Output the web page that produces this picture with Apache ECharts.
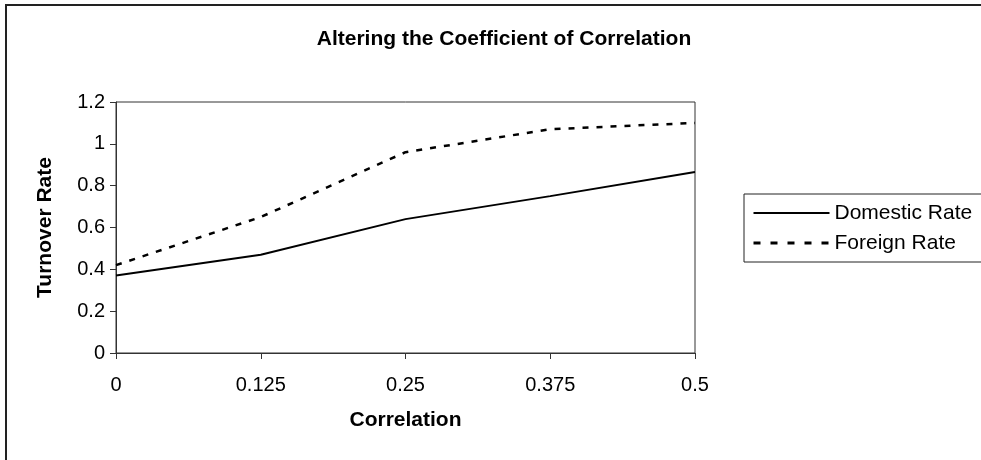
<!DOCTYPE html>
<html>
<head>
<meta charset="utf-8">
<script src="https://cdn.jsdelivr.net/npm/echarts@6/dist/echarts.min.js"></script>
<style>
html,body{margin:0;padding:0;background:#fff;}
#chart{width:981px;height:460px;}
</style>
</head>
<body>
<div id="chart"></div>
<script>
const correlation = [0, 0.125, 0.25, 0.375, 0.5];
const domesticRate = [0.37, 0.47, 0.64, 0.75, 0.865];
const foreignRate = [0.42, 0.65, 0.96, 1.07, 1.10];
const yTickLabels = ['0', '0.2', '0.4', '0.6', '0.8', '1', '1.2'];
const xTickLabels = ['0', '0.125', '0.25', '0.375', '0.5'];

const font = 'Liberation Sans, Arial, sans-serif';
const chart = echarts.init(document.getElementById('chart'));
chart.setOption({
  animation: false,
  backgroundColor: '#fff',
  title: {
    text: 'Altering the Coefficient of Correlation',
    left: 499, top: 24, textAlign: 'center',
    textStyle: {fontFamily: font, fontSize: 21, fontWeight: 'bold', color: '#000'}
  },
  grid: {left: 116, top: 102, width: 579, height: 251, show: true, borderColor: '#333', borderWidth: 1, backgroundColor: 'transparent'},
  legend: {
    orient: 'vertical', left: 752, top: 202, itemWidth: 76, itemHeight: 10, itemGap: 8, padding: 0,
    itemStyle: {opacity: 0},
    textStyle: {fontFamily: font, fontSize: 21, lineHeight: 22, color: '#000'},
    data: [
      {name: 'Domestic Rate'},
      {name: 'Foreign Rate', lineStyle: {type: [7, 10], width: 3}}
    ]
  },
  graphic: [
    {type: 'rect', shape: {x: 6, y: 5, width: 1000, height: 500}, style: {fill: 'none', stroke: '#222', lineWidth: 2}, silent: true, z: -1},
    {type: 'rect', shape: {x: 744, y: 194, width: 300, height: 68}, style: {fill: 'none', stroke: '#222', lineWidth: 1}, silent: true}
  ],
  xAxis: {
    type: 'value', min: 0, max: 0.5, interval: 0.125,
    name: 'Correlation', nameLocation: 'middle', nameGap: 57,
    nameTextStyle: {fontFamily: font, fontSize: 21, fontWeight: 'bold', color: '#000'},
    axisLine: {lineStyle: {color: '#333', width: 1}},
    axisTick: {show: true, length: 6, lineStyle: {color: '#333'}},
    splitLine: {show: false},
    axisLabel: {fontFamily: font, fontSize: 20, color: '#000', margin: 22,
      formatter: (v) => { const i = correlation.indexOf(v); return i >= 0 ? xTickLabels[i] : ''; }}
  },
  yAxis: {
    type: 'value', min: 0, max: 1.2, interval: 0.2,
    name: 'Turnover Rate', nameLocation: 'middle', nameGap: 60,
    nameTextStyle: {fontFamily: font, fontSize: 21, fontWeight: 'bold', color: '#000'},
    axisLine: {show: true, lineStyle: {color: '#333', width: 1}},
    axisTick: {show: true, length: 6, lineStyle: {color: '#333'}},
    splitLine: {show: false},
    axisLabel: {fontFamily: font, fontSize: 20, color: '#000', margin: 11,
      formatter: (v) => yTickLabels[Math.round(v / 0.2)]}
  },
  series: [
    {name: 'Domestic Rate', type: 'line', symbol: 'none', data: correlation.map((x, i) => [x, domesticRate[i]]),
     lineStyle: {color: '#000', width: 2, type: 'solid'}, itemStyle: {color: '#000'}},
    {name: 'Foreign Rate', type: 'line', symbol: 'none', data: correlation.map((x, i) => [x, foreignRate[i]]),
     lineStyle: {color: '#000', width: 2.5, type: [6, 8]}, itemStyle: {color: '#000'}}
  ]
});
</script>
</body>
</html>
